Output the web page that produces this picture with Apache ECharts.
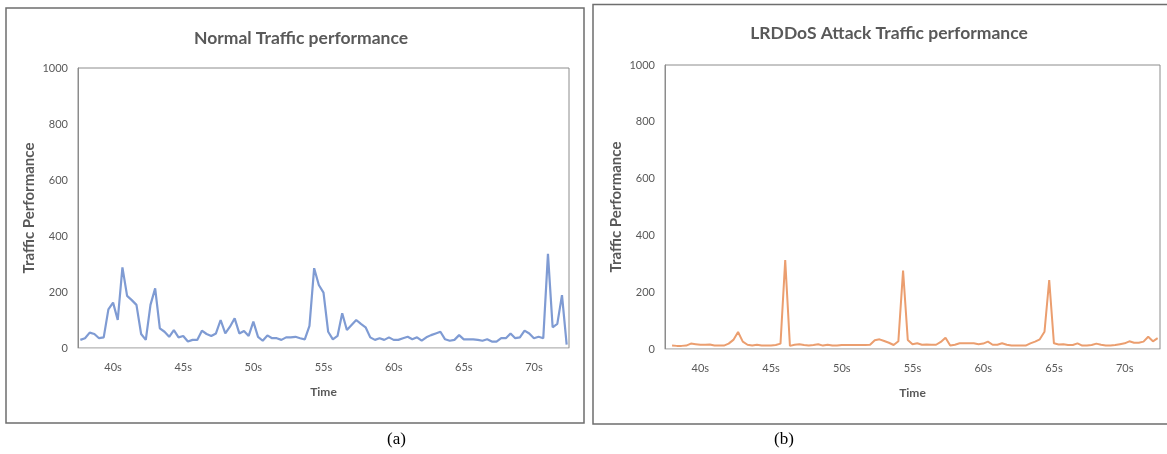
<!DOCTYPE html>
<html>
<head>
    <meta http-equiv=Content-Type content="text/html; charset=utf-8">
    <title>Traffic performance</title>
    <script type="text/javascript" src="https://cdn.jsdelivr.net/npm/echarts@6/dist/echarts.min.js"></script>
    <style>
        html, body { margin: 0; padding: 0; background: #fff; }
        #chartmain { width: 1167px; height: 454px; }
    </style>
</head>
<body>
<div id="chartmain"></div>

<script type="text/javascript">
    // x 轴刻度文字
    var xTickLabels = ['40s', '45s', '50s', '55s', '60s', '65s', '70s'];
    var firstTickIndex = 7;   // 40s 所在的样本序号
    var samplesPerTick = 15;  // 5 秒 = 15 个样本
    var sampleCount = 105;

    var yTickMax = 1000;
    var yTickStep = 200;

    // (a) 正常流量
    var normalTraffic = [
        29, 35, 55, 50, 35, 38, 138, 162, 100, 288,
        186, 171, 154, 50, 29, 154, 213, 70, 58, 40,
        64, 38, 43, 23, 29, 29, 62, 50, 43, 52,
        100, 52, 76, 106, 52, 61, 43, 94, 40, 26,
        45, 35, 35, 29, 38, 38, 40, 35, 31, 79,
        285, 225, 198, 58, 31, 43, 124, 64, 82, 100,
        86, 74, 38, 29, 35, 29, 38, 29, 29, 35,
        40, 31, 38, 26, 38, 46, 52, 58, 31, 26,
        29, 46, 31, 31, 31, 29, 26, 31, 23, 23,
        35, 35, 52, 35, 38, 62, 52, 35, 40, 35,
        336, 74, 86, 189, 12
    ];

    // (b) LRDDoS 攻击流量
    var attackTraffic = [
        null, 12, 11, 11, 12, 19, 17, 15, 15, 16,
        12, 12, 12, 19, 32, 60, 26, 15, 12, 15,
        12, 12, 12, 14, 19, 313, 11, 15, 17, 14,
        12, 14, 17, 12, 15, 12, 12, 14, 14, 14,
        14, 14, 14, 15, 31, 34, 28, 22, 14, 27,
        276, 32, 17, 20, 15, 16, 15, 15, 25, 40,
        12, 15, 20, 20, 20, 20, 17, 19, 26, 15,
        15, 20, 15, 12, 12, 12, 12, 20, 26, 34,
        61, 243, 20, 16, 17, 14, 14, 20, 12, 12,
        14, 19, 15, 12, 12, 14, 17, 20, 27, 22,
        22, 26, 43, 27, 38
    ];

    var categories = [];
    for (var i = 0; i < sampleCount; i++) {
        var k = i - firstTickIndex;
        categories.push(k >= 0 && k % samplesPerTick == 0 ? (xTickLabels[k / samplesPerTick] || '') : '');
    }

    var textGray = '#595959';
    var font = 'Lato, "Open Sans", sans-serif';

    function xAxisOf(gridIndex) {
        return {
            type: 'category',
            gridIndex: gridIndex,
            data: categories,
            boundaryGap: true,
            name: 'Time',
            nameLocation: 'middle',
            nameGap: 38,
            nameTextStyle: {color: textGray, fontSize: 12, fontWeight: 'bold', fontFamily: font},
            axisTick: {show: false},
            axisLine: {show: true, lineStyle: {color: '#d9d9d9', width: 1}},
            axisLabel: {
                interval: function (idx, val) { return val !== ''; },
                color: textGray, fontSize: 11, fontFamily: font, margin: 14
            },
            splitLine: {show: false}
        };
    }

    function yAxisOf(gridIndex) {
        return {
            type: 'value',
            gridIndex: gridIndex,
            min: 0,
            max: yTickMax,
            interval: yTickStep,
            name: 'Traffic Performance',
            nameLocation: 'middle',
            nameRotate: 90,
            nameGap: 41,
            nameTextStyle: {color: textGray, fontSize: 15, fontWeight: 'bold', fontFamily: font},
            axisLine: {show: true, lineStyle: {color: '#8c8c8c', width: 1}},
            axisTick: {show: false},
            axisLabel: {
                formatter: function (v) { return String(v); },
                color: textGray, fontSize: 11, fontFamily: font, margin: 10
            },
            splitLine: {show: false}
        };
    }

    var myChart = echarts.init(document.getElementById('chartmain'));
    var option = {
        animation: false,
        title: [
            {
                text: 'Normal Traffic performance',
                left: 296, top: 24, textAlign: 'center',
                textStyle: {color: textGray, fontSize: 17.5, fontWeight: 'bold', fontFamily: font}
            },
            {
                text: 'LRDDoS Attack Traffic performance',
                left: 884, top: 19, textAlign: 'center',
                textStyle: {color: textGray, fontSize: 17.5, fontWeight: 'bold', fontFamily: font}
            }
        ],
        grid: [
            {left: 78, top: 68, width: 491, height: 280, show: true, borderColor: '#8c8c8c', borderWidth: 1},
            {left: 665, top: 65, width: 495, height: 284, show: true, borderColor: '#8c8c8c', borderWidth: 1}
        ],
        xAxis: [xAxisOf(0), xAxisOf(1)],
        yAxis: [yAxisOf(0), yAxisOf(1)],
        series: [
            {
                name: 'Normal',
                type: 'line',
                xAxisIndex: 0, yAxisIndex: 0,
                data: normalTraffic,
                showSymbol: false,
                lineStyle: {color: '#7f9bd3', width: 2.2},
                itemStyle: {color: '#7f9bd3'}
            },
            {
                name: 'LRDDoS',
                type: 'line',
                xAxisIndex: 1, yAxisIndex: 1,
                data: attackTraffic,
                showSymbol: false,
                connectNulls: false,
                lineStyle: {color: '#eb9e6f', width: 2},
                itemStyle: {color: '#eb9e6f'}
            }
        ],
        graphic: [
            {
                type: 'rect', silent: true,
                shape: {x: 6, y: 8, width: 578, height: 415},
                style: {fill: 'none', stroke: '#6e6e6e', lineWidth: 1.5}
            },
            {
                type: 'rect', silent: true,
                shape: {x: 593, y: 4.5, width: 590, height: 419.5},
                style: {fill: 'none', stroke: '#6e6e6e', lineWidth: 1.5}
            },
            {
                type: 'text', silent: true, left: 387, top: 431,
                style: {text: '(a)', fill: '#000', fontSize: 17, fontFamily: '"Liberation Serif", serif'}
            },
            {
                type: 'text', silent: true, left: 774, top: 431,
                style: {text: '(b)', fill: '#000', fontSize: 17, fontFamily: '"Liberation Serif", serif'}
            }
        ]
    };
    myChart.setOption(option);
</script>
</body>
</html>
